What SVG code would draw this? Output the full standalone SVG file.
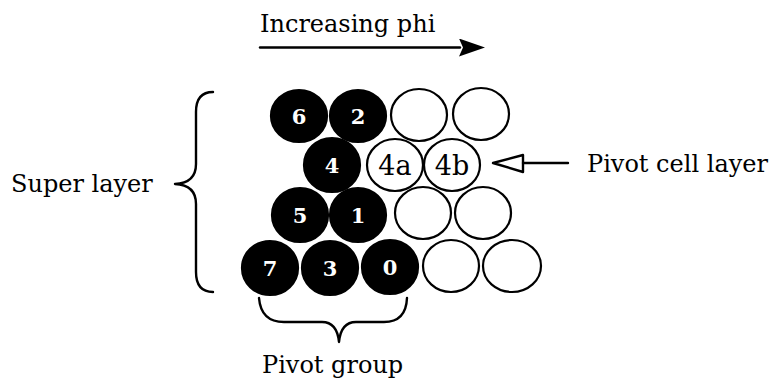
<svg xmlns="http://www.w3.org/2000/svg" width="771" height="386" viewBox="0 0 771 386">
  <style>
    text { font-family: "DejaVu Serif", serif; }
    .lbl { font-size: 24px; fill: #000; }
    .cell { stroke: #000; stroke-width: 2.2; }
    .full { fill: #000; }
    .empty { fill: #fff; }
    .num { font-size: 21px; font-weight: bold; fill: #fff; text-anchor: middle; }
    .sub { font-size: 27px; fill: #000; text-anchor: middle; }
    .line { fill: none; stroke: #000; stroke-width: 2.4; stroke-linecap: round; stroke-linejoin: round; }
  </style>
  <defs>
    <marker id="solidHead" viewBox="0 0 26 18" refX="1" refY="9" markerWidth="26" markerHeight="18" markerUnits="userSpaceOnUse" orient="auto">
      <path d="M0,0 L26,9 L0,18 L4,9 Z" fill="#000"/>
    </marker>
  </defs>

  <rect width="771" height="386" fill="#fff"/>

  <!-- direction label -->
  <g id="phi-label">
    <text class="lbl" x="260" y="32">Increasing phi</text>
  </g>

  <!-- side and bottom labels -->
  <g id="super-layer-label">
    <text class="lbl" x="11" y="192">Super layer</text>
  </g>
  <g id="pivot-cell-layer-label">
    <text class="lbl" x="587" y="172">Pivot cell layer</text>
  </g>
  <g id="pivot-group-label">
    <text class="lbl" x="262" y="373">Pivot group</text>
  </g>

  <!-- row 1 -->
  <g id="cell-6"><ellipse class="cell full" cx="299" cy="116" rx="28" ry="26"/><text class="num" x="299" y="124">6</text></g>
  <g id="cell-2"><ellipse class="cell full" cx="358" cy="116" rx="28" ry="26"/><text class="num" x="358" y="124">2</text></g>
  <g id="cell-r1a"><ellipse class="cell empty" cx="419" cy="115" rx="28" ry="26"/></g>
  <g id="cell-r1b"><ellipse class="cell empty" cx="481" cy="114" rx="28" ry="26"/></g>

  <!-- row 2: pivot cell layer -->
  <g id="cell-4"><ellipse class="cell full" cx="332" cy="165" rx="28" ry="27"/><text class="num" x="332" y="173">4</text></g>
  <g id="cell-4a"><ellipse class="cell empty" cx="395" cy="165" rx="28" ry="26"/><text class="sub" x="395" y="175">4a</text></g>
  <g id="cell-4b"><ellipse class="cell empty" cx="452" cy="165" rx="28" ry="26"/><text class="sub" x="452" y="175">4b</text></g>

  <!-- row 3 -->
  <g id="cell-5"><ellipse class="cell full" cx="300" cy="215" rx="28" ry="27"/><text class="num" x="300" y="223">5</text></g>
  <g id="cell-1"><ellipse class="cell full" cx="358" cy="215" rx="28" ry="27"/><text class="num" x="358" y="223">1</text></g>
  <g id="cell-r3a"><ellipse class="cell empty" cx="423" cy="213" rx="28" ry="26"/></g>
  <g id="cell-r3b"><ellipse class="cell empty" cx="483" cy="213" rx="28" ry="26"/></g>

  <!-- row 4 -->
  <g id="cell-7"><ellipse class="cell full" cx="270" cy="268" rx="28" ry="27"/><text class="num" x="270" y="276">7</text></g>
  <g id="cell-3"><ellipse class="cell full" cx="330" cy="268" rx="28" ry="27"/><text class="num" x="330" y="276">3</text></g>
  <g id="cell-0"><ellipse class="cell full" cx="390" cy="267" rx="28" ry="27"/><text class="num" x="390" y="275">0</text></g>
  <g id="cell-r4a"><ellipse class="cell empty" cx="451" cy="266" rx="28" ry="26"/></g>
  <g id="cell-r4b"><ellipse class="cell empty" cx="512" cy="266" rx="29" ry="26"/></g>

  <!-- connectors: arrows and braces -->
  <g id="connectors">
    <line class="line" x1="260" y1="47.5" x2="460" y2="47.5" marker-end="url(#solidHead)"/>
    <line class="line" x1="523" y1="163" x2="568" y2="163"/>
    <path class="line" d="M493,163 L523,155 L523,172 Z" fill="#fff"/>
    <path class="line" d="M213,92 Q196,92 196,112 L196,164 Q196,183 175,184 Q196,185 196,204 L196,272 Q196,292 213,292"/>
    <path class="line" d="M259,298 Q261,322 284,322 L322,322 Q337,322 339,342 Q341,322 356,322 L384,322 Q406,322 407,298"/>
  </g>
</svg>
